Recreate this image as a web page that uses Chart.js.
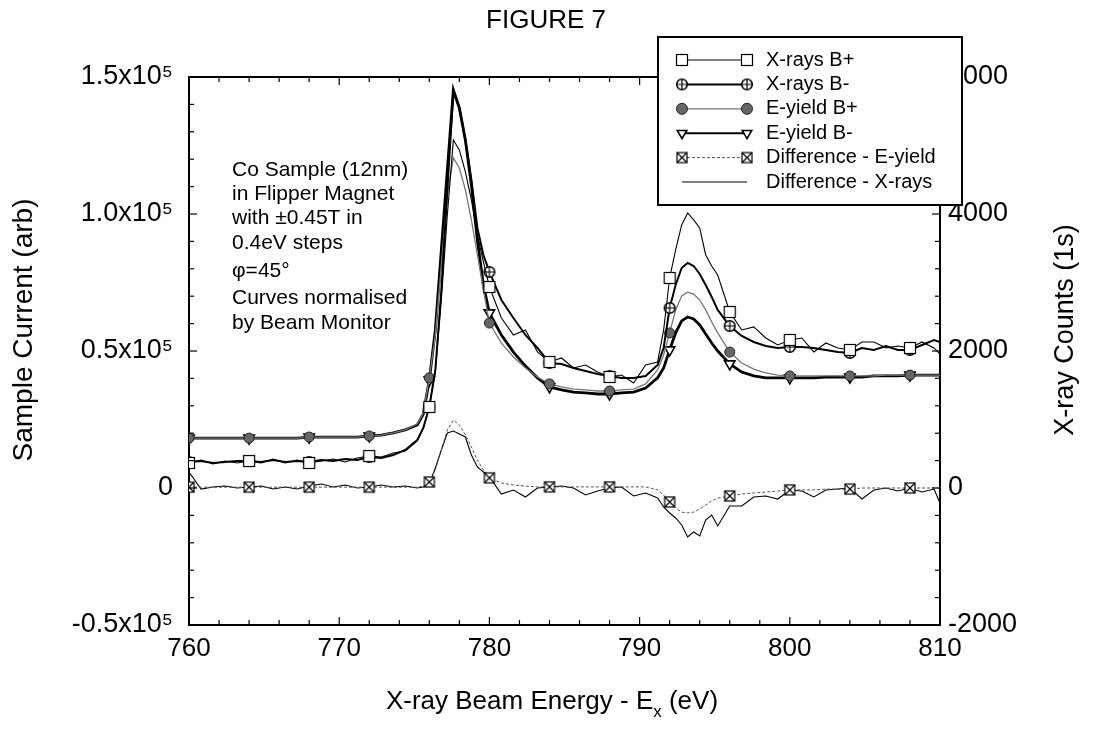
<!DOCTYPE html>
<html>
<head>
<meta charset="UTF-8">
<title>FIGURE 7</title>
<script src="https://cdn.jsdelivr.net/npm/chart.js@4.4.1/dist/chart.umd.min.js"></script>
<style>
  body { margin: 0; background: #fff; }
  #wrap { width: 1095px; height: 733px; position: relative; }
</style>
</head>
<body>
<div id="wrap"><canvas id="fig7"></canvas></div>
<script>
// Energy grid (eV) - 0.8 eV away from the edges, 0.4 eV across the L3 / L2 peaks
const energy = [
  760, 760.8, 761.6, 762.4, 763.2, 764, 764.8, 765.6, 766.4, 767.2,
  768, 768.8, 769.6, 770.4, 771.2, 772, 772.8, 773.6, 774.4, 775.2,
  775.6, 776, 776.4, 776.8, 777.2, 777.6, 778, 778.4, 778.8, 779.2,
  779.6, 780, 780.8, 781.6, 782.4, 783.2, 784, 784.8, 785.6, 786.4,
  787.2, 788, 788.8, 789.6, 790.4, 791.2, 791.6, 792, 792.4, 792.8,
  793.2, 793.6, 794, 794.4, 794.8, 795.2, 796, 796.8, 797.6, 798.4,
  799.2, 800, 800.8, 801.6, 802.4, 803.2, 804, 804.8, 805.6, 806.4,
  807.2, 808, 808.8, 809.6, 810
];

// symbols are only plotted every 4 eV
const markerEnergies = [760, 764, 768, 772, 776, 780, 784, 788, 792, 796, 800, 804, 808];

// X-ray counts (1s), right axis
const xraysBplus = [
  365, 409, 350, 394, 365, 394, 365, 423, 365, 409,
  365, 394, 423, 380, 438, 467, 453, 511, 540, 686,
  876, 1183, 1694, 2745, 3986, 5081, 4935, 4614, 4205, 3694,
  3300, 2935, 2482, 2234, 2307, 1986, 1840, 1898, 1752, 1796,
  1694, 1621, 1650, 1533, 1796, 1840, 2307, 3066, 3475, 3840,
  4015, 3913, 3796, 3402, 3241, 3110, 2570, 2307, 2351, 2190,
  2088, 2161, 2190, 1986, 2117, 2044, 2015, 2132, 2132, 2044,
  2073, 2044, 2132, 2044, 1956
];
const xraysBminus = [
  380, 394, 365, 380, 394, 394, 380, 409, 380, 394,
  380, 409, 394, 423, 409, 453, 438, 482, 555, 701,
  876, 1183, 1723, 2891, 4351, 5782, 5548, 5081, 4497, 3796,
  3402, 3154, 2745, 2482, 2234, 2044, 1825, 1810, 1752, 1708,
  1664, 1635, 1606, 1606, 1635, 1796, 2044, 2628, 2964, 3212,
  3285, 3241, 3124, 2964, 2789, 2599, 2365, 2219, 2132, 2073,
  2044, 2059, 2059, 2044, 2015, 1986, 1971, 2044, 2015, 2073,
  2015, 2015, 2088, 2161, 2132
];

// Sample current (arb), left axis
const eyieldBplus = [
  18200, 18200, 18200, 18200, 18200, 18200, 18200, 18200, 18200, 18200,
  18600, 18600, 18600, 18600, 18600, 19000, 19300, 20100, 21200, 23400,
  27400, 40200, 55800, 81400, 106900, 120500, 116800, 108800, 97900, 85200,
  72400, 60200, 52900, 47800, 43800, 40500, 38000, 36900, 36100, 35800,
  35400, 35400, 35800, 36100, 38000, 43100, 48500, 56600, 65000, 70100,
  71500, 70800, 68600, 65000, 60600, 56600, 49600, 45600, 43400, 42000,
  41200, 40900, 40900, 40900, 40900, 40900, 40900, 40900, 40900, 41200,
  41200, 41200, 41200, 41200, 41200
];
const eyieldBminus = [
  18200, 18200, 18200, 18200, 18200, 18200, 18200, 18200, 18200, 18200,
  18600, 18600, 18600, 18600, 18600, 19000, 19300, 20100, 21200, 23000,
  27000, 39400, 57700, 86900, 116100, 145300, 138700, 127000, 110600, 90500,
  74100, 63900, 55800, 49600, 44500, 40200, 36900, 35800, 35000, 34700,
  34300, 34300, 34700, 35000, 36500, 40200, 43800, 50400, 56600, 61000,
  62400, 61700, 59500, 56200, 52900, 50000, 45300, 42300, 40900, 40200,
  40200, 40200, 40200, 40200, 40500, 40500, 40500, 40500, 40900, 40900,
  40900, 41200, 41200, 41200, 41200
];
const diffEyield = [
  300, 300, 300, 300, 300, 300, 300, 300, 300, 300,
  300, 300, 300, 300, 300, 300, 300, 300, 300, 300,
  700, 2200, 6600, 13900, 21200, 24800, 23000, 19400, 15000, 10200,
  6600, 3700, 1800, 1100, 700, 400, 400, 400, 400, 400,
  400, 400, 400, 400, 400, -700, -2600, -5100, -7300, -8800,
  -9100, -8800, -7700, -6200, -4700, -3700, -2900, -2200, -1800, -1500,
  -1100, -700, -700, -700, -400, -400, -400, 0, 0, 0,
  0, 0, 0, 0, 0
];
// right axis
const diffXrays = [
  234, -15, 15, 29, 0, 15, 29, -15, 15, -15,
  29, 58, 15, 44, 0, 15, 44, 15, 29, 0,
  15, 58, 292, 555, 803, 832, 788, 745, 482, 307,
  234, 161, -88, -29, -131, 0, 15, 29, 0, -102,
  -44, 0, 15, -117, -73, -146, -277, -365, -438, -540,
  -715, -642, -701, -467, -394, -555, -263, -263, -131, -117,
  -161, -29, -44, -131, -29, -15, 0, -161, -29, 0,
  -44, 0, -58, -15, -219
];

const seriesLabels = ['X-rays B+', 'X-rays B-', 'E-yield B+', 'E-yield B-', 'Difference - E-yield', 'Difference - X-rays'];
const notes = ['Co Sample (12nm)', 'in Flipper Magnet', 'with \u00b10.45T in', '0.4eV steps', '\u03c6=45\u00b0', 'Curves normalised', 'by Beam Monitor'];

const FONT = "'Liberation Sans', Arial, sans-serif";
Chart.defaults.font.family = FONT;
Chart.defaults.color = '#000';

// marker images
function marker(size, draw) {
    const c = document.createElement('canvas');
    c.width = size; c.height = size;
    const g = c.getContext('2d');
    draw(g, size / 2);
    return c;
}
const squareMark = marker(14, (g, m) => {
    g.fillStyle = '#fff'; g.fillRect(1.5, 1.5, 11, 11);
    g.strokeStyle = '#000'; g.lineWidth = 1.2; g.strokeRect(1.5, 1.5, 11, 11);
});
const circlePlusMark = marker(14, (g, m) => {
    g.beginPath(); g.arc(m, m, 5.3, 0, Math.PI * 2);
    g.fillStyle = '#fff'; g.fill();
    g.strokeStyle = '#000'; g.lineWidth = 1.6; g.stroke();
    g.beginPath(); g.moveTo(m - 5, m); g.lineTo(m + 5, m); g.moveTo(m, m - 5); g.lineTo(m, m + 5);
    g.lineWidth = 1.2; g.stroke();
});
const squareXMark = marker(14, (g, m) => {
    g.fillStyle = '#fff'; g.fillRect(2, 2, 10, 10);
    g.strokeStyle = '#000'; g.lineWidth = 1.2; g.strokeRect(2, 2, 10, 10);
    g.beginPath(); g.moveTo(2, 2); g.lineTo(12, 12); g.moveTo(12, 2); g.lineTo(2, 12); g.stroke();
});

const pts = vals => energy.map((e, i) => ({ x: e, y: vals[i] }));
const markerRadius = r => ctx => markerEnergies.includes(energy[ctx.dataIndex]) ? r : 0;

const datasets = [
    { label: seriesLabels[0], data: pts(xraysBplus), yAxisID: 'y2', borderColor: '#000', borderWidth: 1.1,
      pointStyle: squareMark, pointRadius: markerRadius(6) },
    { label: seriesLabels[1], data: pts(xraysBminus), yAxisID: 'y2', borderColor: '#000', borderWidth: 2,
      pointStyle: circlePlusMark, pointRadius: markerRadius(6) },
    { label: seriesLabels[2], data: pts(eyieldBplus), yAxisID: 'y', borderColor: '#777', borderWidth: 1.3,
      pointStyle: 'circle', pointBackgroundColor: '#666', pointBorderColor: '#222', pointBorderWidth: 1,
      pointRadius: markerRadius(5) },
    { label: seriesLabels[3], data: pts(eyieldBminus), yAxisID: 'y', borderColor: '#000', borderWidth: 2.8,
      pointStyle: 'triangle', pointRotation: 180, pointBackgroundColor: '#fff', pointBorderColor: '#000',
      pointBorderWidth: 1.6, pointRadius: markerRadius(6) },
    { label: seriesLabels[4], data: pts(diffEyield), yAxisID: 'y', borderColor: '#555', borderWidth: 1,
      borderDash: [3, 2], pointStyle: squareXMark, pointRadius: markerRadius(6) },
    { label: seriesLabels[5], data: pts(diffXrays), yAxisID: 'y2', borderColor: '#000', borderWidth: 1.1,
      pointRadius: 0 }
];

function line(ctx, x1, y1, x2, y2) {
    ctx.beginPath(); ctx.moveTo(x1, y1); ctx.lineTo(x2, y2); ctx.stroke();
}

const figurePlugin = {
    id: 'figure7',
    afterDraw(chart) {
        const ctx = chart.ctx;
        const a = chart.chartArea;
        const sx = chart.scales.x, sy = chart.scales.y, sy2 = chart.scales.y2;
        ctx.save();
        ctx.strokeStyle = '#000';

        // top frame
        ctx.lineWidth = 2;
        line(ctx, a.left, a.top, a.right, a.top);

        // inward tick marks
        ctx.lineWidth = 1.2;
        for (let v = 760; v <= 810; v += 2) {
            const p = sx.getPixelForValue(v), len = v % 10 === 0 ? 8 : 5;
            line(ctx, p, a.bottom, p, a.bottom - len);
            line(ctx, p, a.top, p, a.top + len);
        }
        for (let v = -50000; v <= 150000; v += 10000) {
            const p = sy.getPixelForValue(v), len = v % 50000 === 0 ? 8 : 5;
            line(ctx, a.left, p, a.left + len, p);
        }
        for (let v = -2000; v <= 6000; v += 400) {
            const p = sy2.getPixelForValue(v), len = v % 2000 === 0 ? 8 : 5;
            line(ctx, a.right, p, a.right - len, p);
        }

        ctx.fillStyle = '#000';
        // title
        ctx.font = '26px ' + FONT;
        ctx.textAlign = 'center'; ctx.textBaseline = 'middle';
        ctx.fillText('FIGURE 7', 546, 21);

        // axis titles
        ctx.save();
        ctx.translate(24, 330); ctx.rotate(-Math.PI / 2);
        ctx.font = '28px ' + FONT;
        ctx.fillText('Sample Current (arb)', 0, 0);
        ctx.restore();
        ctx.save();
        ctx.translate(1066, 330); ctx.rotate(-Math.PI / 2);
        ctx.font = '27px ' + FONT;
        ctx.fillText('X-ray Counts (1s)', 0, 0);
        ctx.restore();

        // x title with subscript
        const t1 = 'X-ray Beam Energy - E', t2 = 'x', t3 = ' (eV)';
        ctx.textAlign = 'left'; ctx.textBaseline = 'alphabetic';
        ctx.font = '26px ' + FONT;
        const w1 = ctx.measureText(t1).width, w3 = ctx.measureText(t3).width;
        ctx.font = '17px ' + FONT;
        const w2 = ctx.measureText(t2).width;
        let xs = 552 - (w1 + w2 + w3) / 2;
        ctx.font = '26px ' + FONT;
        ctx.fillText(t1, xs, 709);
        ctx.font = '17px ' + FONT;
        ctx.fillText(t2, xs + w1, 717);
        ctx.font = '26px ' + FONT;
        ctx.fillText(t3, xs + w1 + w2, 709);

        // annotation
        ctx.font = '21px ' + FONT;
        ctx.textBaseline = 'middle';
        const noteY = [170, 194, 218, 243, 271, 298, 323];
        notes.forEach((n, i) => ctx.fillText(n, 232, noteY[i]));

        // legend box
        const L = { x: 658, y: 37, w: 304, h: 168 };
        ctx.fillStyle = '#fff';
        ctx.fillRect(L.x, L.y, L.w, L.h);
        ctx.lineWidth = 2;
        ctx.strokeRect(L.x, L.y, L.w, L.h);
        ctx.font = '20px ' + FONT;
        chart.data.datasets.forEach((ds, i) => {
            const y = 60 + i * 24.4;
            ctx.save();
            ctx.strokeStyle = ds.borderColor;
            ctx.lineWidth = Math.min(ds.borderWidth, 2);
            ctx.setLineDash(ds.borderDash || []);
            line(ctx, 682, y, 747, y);
            ctx.restore();
            if (ds.pointStyle) {
                [682, 747].forEach(x => {
                    ctx.save();
                    ctx.fillStyle = ds.pointBackgroundColor || '#fff';
                    ctx.strokeStyle = ds.pointBorderColor || '#000';
                    ctx.lineWidth = ds.pointBorderWidth || 1;
                    Chart.helpers.drawPoint(ctx, {
                        pointStyle: ds.pointStyle, radius: 5.5,
                        rotation: ds.pointRotation || 0, borderWidth: ds.pointBorderWidth || 1
                    }, x, y);
                    ctx.restore();
                });
            }
            ctx.fillStyle = '#000';
            ctx.fillText(ds.label, 766, y);
        });
        ctx.restore();
    }
};

new Chart(document.getElementById('fig7'), {
    type: 'line',
    data: { datasets },
    options: {
        responsive: true,
        maintainAspectRatio: false,
        animation: false,
        events: [],
        layout: { padding: { top: 77, left: 0, right: 0, bottom: 0 } },
        plugins: { legend: { display: false }, tooltip: { enabled: false } },
        scales: {
            x: {
                type: 'linear', min: 760, max: 810,
                ticks: { stepSize: 10, font: { size: 26 }, padding: 8, color: '#000', callback: v => String(v) },
                grid: { display: false, drawTicks: false },
                border: { display: true, color: '#000', width: 2 },
                afterFit: s => { s.height = 108; }
            },
            y: {
                position: 'left', min: -50000, max: 150000,
                ticks: {
                    stepSize: 50000, font: { size: 27 }, padding: 16, color: '#000',
                    callback: v => v === 0 ? '0' : (v / 1e5).toFixed(1) + 'x10\u2075'
                },
                grid: { display: false, drawTicks: false },
                border: { display: true, color: '#000', width: 2 },
                afterFit: s => { s.width = 189; }
            },
            y2: {
                position: 'right', min: -2000, max: 6000,
                ticks: { stepSize: 2000, font: { size: 27 }, padding: 8, color: '#000', callback: v => String(v) },
                grid: { display: false, drawTicks: false },
                border: { display: true, color: '#000', width: 2 },
                afterFit: s => { s.width = 155; }
            }
        }
    },
    plugins: [figurePlugin]
});
</script>
</body>
</html>
